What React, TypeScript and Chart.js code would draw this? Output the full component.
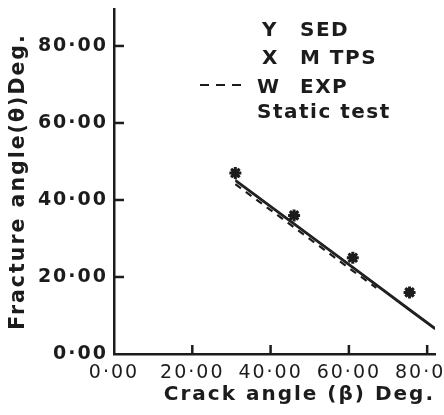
import React, { useEffect, useRef } from "react";
import { Chart, registerables } from "chart.js";

Chart.register(...registerables);

// ---- data ----
const testAngles = [31, 46, 61, 75.5];          // crack angle β of static test points
const testFracture = [47, 36, 25, 16];          // fracture angle θ of static test points

const sedAngles = [31, 46, 61, 75.5, 82];
const sedFracture = [45.3, 34.0, 22.7, 11.7, 6.8];

const mtpsAngles = [31, 46, 61, 75.5, 82];
const mtpsFracture = [44.9, 33.6, 22.3, 11.3, 6.4];

const expAngles = [31, 46, 61, 67];
const expFracture = [44.1, 32.9, 21.6, 17.2];

const xTicks = [0, 20, 40, 60, 80];
const yTicks = [0, 20, 40, 60, 80];

const legendRows = [
  { sym: "Y", label: "SED" },
  { sym: "X", label: "M TPS" },
  { sym: "W", label: "EXP" },
];
const legendNote = "Static test";

const INK = "#1c1c1c";

const fmt = (v: number) => v.toFixed(2).replace(".", "·");

const toPts = (xs: number[], ys: number[]) => xs.map((x, i) => ({ x, y: ys[i] }));

export default function App() {
  const ref = useRef<HTMLCanvasElement | null>(null);

  useEffect(() => {
    if (!ref.current) return;

    const spacingPlugin = {
      id: "spacing",
      beforeDraw(chart: any) {
        chart.ctx.letterSpacing = "2px";
      },
      afterDraw(chart: any) {
        chart.ctx.letterSpacing = "0px";
      },
    };

    const innerTicks = {
      id: "innerTicks",
      afterDraw(chart: any) {
        const ctx = chart.ctx;
        const xs = chart.scales.x;
        const ys = chart.scales.y;
        const area = chart.chartArea;
        ctx.save();
        ctx.strokeStyle = INK;
        ctx.lineWidth = 2.5;
        xTicks.forEach((v) => {
          if (v === 0) return;
          const px = xs.getPixelForValue(v);
          ctx.beginPath();
          ctx.moveTo(px, area.bottom);
          ctx.lineTo(px, area.bottom - 9);
          ctx.stroke();
        });
        yTicks.forEach((v) => {
          if (v === 0) return;
          const py = ys.getPixelForValue(v);
          ctx.beginPath();
          ctx.moveTo(area.left, py);
          ctx.lineTo(area.left + 10, py);
          ctx.stroke();
        });
        ctx.restore();
      },
    };

    const legendPlugin = {
      id: "textLegend",
      afterDraw(chart: any) {
        const ctx = chart.ctx;
        ctx.save();
        ctx.letterSpacing = "1.5px";
        ctx.fillStyle = INK;
        ctx.font = 'bold 20px "DejaVu Sans"';
        ctx.textBaseline = "alphabetic";
        ctx.textAlign = "left";
        const baselines = [36, 64, 93];
        const symX = [262, 262, 257];
        legendRows.forEach((r, i) => {
          ctx.fillText(r.sym, symX[i], baselines[i]);
          ctx.fillText(r.label, 300, baselines[i]);
        });
        ctx.fillText(legendNote, 257, 118);
        ctx.strokeStyle = INK;
        ctx.lineWidth = 2;
        ctx.setLineDash([9, 7]);
        ctx.beginPath();
        ctx.moveTo(200, 85);
        ctx.lineTo(243, 85);
        ctx.stroke();
        ctx.restore();
      },
    };

    const chart = new Chart(ref.current, {
      type: "scatter",
      data: {
        datasets: [
          {
            label: "SED",
            data: toPts(sedAngles, sedFracture),
            showLine: true,
            borderColor: INK,
            borderWidth: 1.6,
            pointRadius: 0,
          },
          {
            label: "M TPS",
            data: toPts(mtpsAngles, mtpsFracture),
            showLine: true,
            borderColor: INK,
            borderWidth: 1.6,
            pointRadius: 0,
          },
          {
            label: "EXP",
            data: toPts(expAngles, expFracture),
            showLine: true,
            borderColor: INK,
            borderWidth: 2.2,
            borderDash: [7, 6],
            pointRadius: 0,
          },
          {
            label: "Static test",
            data: toPts(testAngles, testFracture),
            showLine: false,
            pointStyle: "star",
            pointRadius: 6,
            borderWidth: 3,
            borderColor: INK,
            backgroundColor: INK,
          },
          {
            label: "Static test X",
            data: toPts(testAngles, testFracture),
            showLine: false,
            pointStyle: "crossRot",
            pointRadius: 5,
            borderWidth: 3,
            borderColor: INK,
          },
        ],
      },
      options: {
        animation: false,
        responsive: false,
        maintainAspectRatio: false,
        layout: { padding: { top: 8, right: 3, left: 0, bottom: 0 } },
        plugins: {
          legend: { display: false },
          tooltip: { enabled: false },
        },
        scales: {
          x: {
            type: "linear",
            min: 0,
            max: 82,
            afterBuildTicks: (s: any) => {
              s.ticks = xTicks.map((v) => ({ value: v }));
            },
            afterFit: (s: any) => {
              s.height = 61;
              s.paddingLeft = 0;
              s.paddingRight = 0;
            },
            grid: { display: false, drawTicks: false },
            border: { display: true, color: INK, width: 2.5 },
            ticks: {
              callback: (v: any) => fmt(Number(v)),
              color: INK,
              padding: 8,
              maxRotation: 0,
              autoSkip: false,
              font: { family: "DejaVu Sans", size: 19 },
            },
            title: {
              display: true,
              text: "Crack angle (β) Deg.",
              align: "end",
              color: INK,
              padding: { top: 0, bottom: 8 },
              font: { family: "DejaVu Sans", size: 20, weight: "bold" },
            },
          },
          y: {
            type: "linear",
            min: 0,
            max: 89.6,
            afterBuildTicks: (s: any) => {
              s.ticks = yTicks.map((v) => ({ value: v }));
            },
            afterFit: (s: any) => {
              s.width = 114;
              s.paddingTop = 0;
              s.paddingBottom = 0;
            },
            grid: { display: false, drawTicks: false },
            border: { display: true, color: INK, width: 2.5 },
            ticks: {
              callback: (v: any) => fmt(Number(v)),
              color: INK,
              padding: 6,
              autoSkip: false,
              font: { family: "DejaVu Sans", size: 19, weight: "bold" },
            },
            title: {
              display: true,
              text: "Fracture angle(θ)Deg.",
              color: INK,
              padding: { top: 6, bottom: 0 },
              font: { family: "DejaVu Sans", size: 20.5, weight: "bold" },
            },
          },
        },
      },
      plugins: [spacingPlugin, innerTicks, legendPlugin],
    } as any);

    return () => chart.destroy();
  }, []);

  return (
    <div style={{ position: "absolute", left: 0, top: 0, width: 444, height: 415, background: "#fff" }}>
      <canvas ref={ref} width={444} height={415} style={{ display: "block", width: 444, height: 415 }} />
    </div>
  );
}
